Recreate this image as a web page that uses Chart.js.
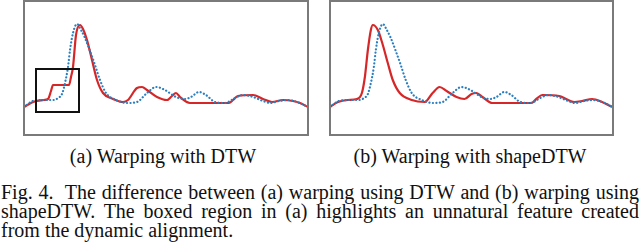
<!DOCTYPE html>
<html>
<head>
<meta charset="utf-8">
<script src="https://cdn.jsdelivr.net/npm/chart.js@4"></script>
<style>
    body { margin: 0; background: #fff; width: 640px; height: 249px; position: relative; overflow: hidden; }
    canvas { position: absolute; top: 0; }
    #chartA { left: 0; }
    #chartB { left: 320px; }
    .sub { position: absolute; top: 146px; font-family: "Liberation Serif", "Times New Roman", serif; font-size: 20px; line-height: 20px; color: #111; text-align: center; white-space: nowrap; }
    #capA { left: 63px; width: 200px; }
    #capB { left: 350px; width: 240px; }
    #caption { position: absolute; left: 1px; top: 183px; width: 638px; font-family: "Liberation Serif", "Times New Roman", serif; font-size: 20px; line-height: 19px; color: #111; text-align: justify; }
</style>
</head>
<body>
<canvas id="chartA" width="320" height="140"></canvas>
<canvas id="chartB" width="320" height="140"></canvas>
<div class="sub" id="capA">(a) Warping with DTW</div>
<div class="sub" id="capB">(b) Warping with shapeDTW</div>
<div id="caption">Fig. 4.&nbsp; The difference between (a) warping using DTW and (b) warping using shapeDTW. The boxed region in (a) highlights an unnatural feature created from the dynamic alignment.</div>
<script>
// reference series (blue dotted, same in both panels)
const refX = [0, 9, 20, 30, 34, 38, 41, 44, 46, 49, 53, 57, 61, 66, 71, 76, 82, 92, 104, 113, 123, 132, 141, 152, 161, 167, 175, 182, 191, 201, 211, 219, 229, 239, 246, 255, 264, 273, 284]
const refY = [28, 34, 35, 35, 37, 41, 52, 68, 85, 102, 111, 105, 97, 84, 70, 55, 42, 35, 32, 33, 42, 48, 45, 38, 36, 38, 43, 40, 33, 32, 37, 40, 38, 34, 32, 34, 35, 33, 28]

// warped with DTW (red, panel a)
const dtwX = [0, 9, 20, 24, 27, 29, 45, 47, 49, 52, 56, 59, 63, 68, 73, 79, 89, 99, 104, 113, 118, 123, 133, 143, 148, 152, 156, 166, 176, 205, 209, 214, 229, 239, 248, 259, 269, 276, 284]
const dtwY = [28, 33, 35, 36, 44, 50, 50, 58, 68, 100, 110, 106, 95, 75, 55, 42, 36, 33, 35, 47, 48, 45, 38, 35, 39, 42, 38, 32, 32, 32, 35, 39, 40, 36, 33, 35, 34, 32, 28]

// warped with shapeDTW (red, panel b)
const shapeX = [0, 8, 18, 27, 32, 35, 38, 41, 43, 48, 53, 58, 63, 70, 82, 95, 103, 110, 117, 127, 135, 142, 147, 153, 163, 177, 202, 207, 213, 230, 237, 245, 253, 263, 273, 283]
const shapeY = [28, 33, 35, 36, 42, 58, 85, 105, 110, 105, 90, 72, 55, 42, 35, 33, 42, 48, 44, 38, 36, 41, 42, 38, 32, 32, 32, 36, 40, 39, 36, 33, 34, 36, 33, 28]

// boxed region in (a)
const boxX = [12, 55]
const boxY = [23, 66]

const xMax = 284
const yMax = 134

function toPoints(xs, ys) {
    return xs.map((x, i) => ({ x: x, y: ys[i] }))
}

const framePlugin = {
    id: 'frame',
    afterDraw(chart, args, opts) {
        let ctx = chart.ctx
        let a = chart.chartArea
        ctx.save()
        if (opts.box) {
            let sx = chart.scales.x
            let sy = chart.scales.y
            let x1 = sx.getPixelForValue(opts.box.x[0])
            let x2 = sx.getPixelForValue(opts.box.x[1])
            let y1 = sy.getPixelForValue(opts.box.y[1])
            let y2 = sy.getPixelForValue(opts.box.y[0])
            ctx.strokeStyle = '#111'
            ctx.lineWidth = 2
            ctx.strokeRect(x1, y1, x2 - x1, y2 - y1)
        }
        ctx.strokeStyle = '#7a7a7a'
        ctx.lineWidth = 2
        ctx.strokeRect(a.left, a.top, a.right - a.left, a.bottom - a.top)
        ctx.restore()
    }
}

function makeChart(id, redX, redY, padding, box) {
    return new Chart(document.getElementById(id), {
        type: 'line',
        data: {
            datasets: [{
                label: 'reference',
                data: toPoints(refX, refY),
                borderColor: '#2a7fc0',
                borderWidth: 2.2,
                borderDash: [0.1, 3.4],
                borderCapStyle: 'round',
                order: 0
            }, {
                label: 'warped',
                data: toPoints(redX, redY),
                borderColor: '#d62728',
                borderWidth: 2.2,
                order: 1
            }]
        },
        options: {
            responsive: false,
            animation: false,
            layout: { padding: padding },
            elements: {
                point: { radius: 0 },
                line: { cubicInterpolationMode: 'monotone', fill: false }
            },
            scales: {
                x: { type: 'linear', min: 0, max: xMax, display: false },
                y: { min: 0, max: yMax, display: false }
            },
            plugins: {
                legend: { display: false },
                tooltip: { enabled: false },
                frame: { box: box }
            }
        },
        plugins: [framePlugin]
    })
}

makeChart('chartA', dtwX, dtwY, { left: 24, top: 1, right: 12, bottom: 5 }, { x: boxX, y: boxY })
makeChart('chartB', shapeX, shapeY, { left: 10, top: 1, right: 27, bottom: 5 }, null)
</script>
</body>
</html>
